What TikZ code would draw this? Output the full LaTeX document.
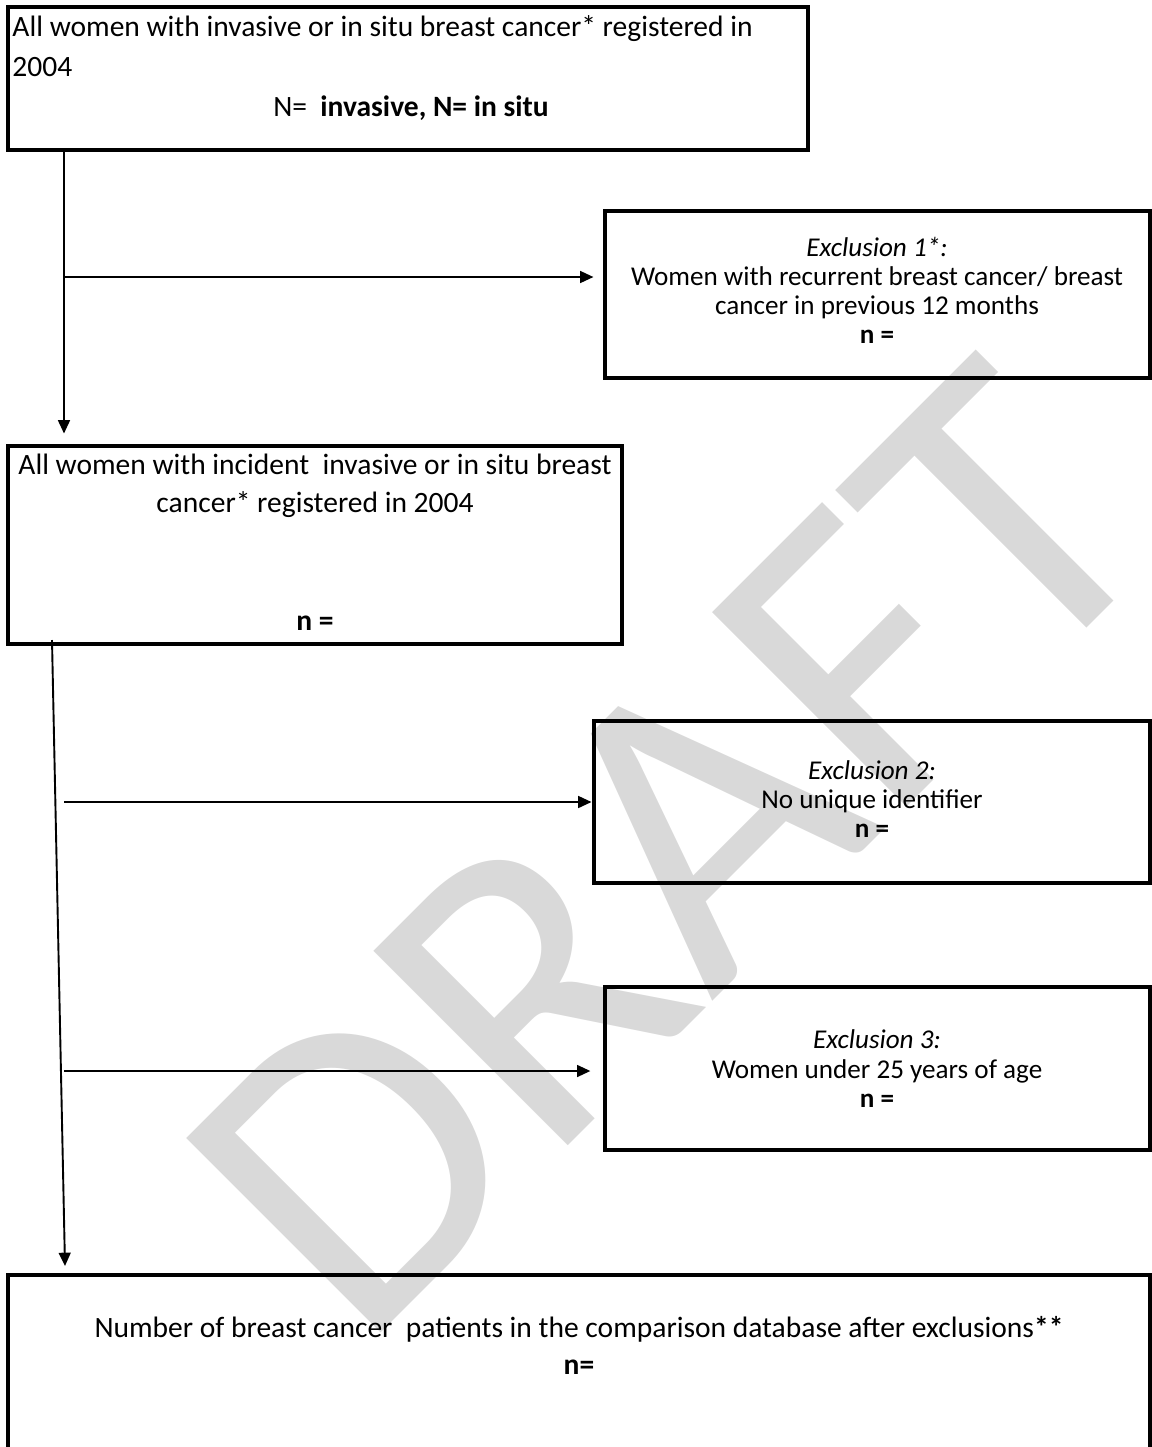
\documentclass[tikz,border=0pt]{standalone}
\usepackage{fontspec}
\setmainfont{Carlito}
\usetikzlibrary{arrows.meta,fit}

\begin{document}
\begin{tikzpicture}[x=0.42pt, y=-0.42pt,
	box/.style={draw=black, line width=1.3pt, inner sep=0pt},
	txt/.style={inner sep=0pt, anchor=base, font=\fontsize{12.4}{15}\selectfont},
	extxt/.style={txt, font=\fontsize{11.4}{14}\selectfont},
	flow/.style={-{Triangle[length=5.6pt, width=5pt]}, line width=0.8pt},
	watermark/.style={rotate=45, text=black!15, inner sep=0pt, font=\fontsize{180}{180}\selectfont}]
				\useasboundingbox (0,0) rectangle (1152,1447);
				
				\node[watermark] (draft) at (670,850) {DRAFT};
				
				\node[box, fit={(8,7) (808,150)}] (all) {};
				\node[txt, anchor=base west] (alla) at (12,36) {All women with invasive or in situ breast cancer* registered in};
				\node[txt, anchor=base west] (allb) at (12,76) {2004};
				\node[txt] (allc) at (411,116) {N=\ \ \textbf{invasive, N= in situ}};
				
				\node[box, fit={(605,211) (1150,378)}] (excl1) {};
				\node[extxt] (excla) at (877,256) {\textit{Exclusion 1*:}};
				\node[extxt] (exclb) at (877,285) {Women with recurrent breast cancer/ breast};
				\node[extxt] (exclc) at (877,314) {cancer in previous 12 months};
				\node[extxt] (excld) at (877,343) {\textbf{n =}};
				
				\node[box, fit={(8,446) (622,644)}] (inc) {};
				\node[txt] (inca) at (315,474) {All women with incident\ \ invasive or in situ breast};
				\node[txt] (incb) at (315,512) {cancer* registered in 2004};
				\node[txt] (incc) at (315,630) {\textbf{n =}};
				
				\node[box, fit={(594,721) (1150,883)}] (excl2) {};
				\node[extxt] (exclia) at (872,779) {\textit{Exclusion 2:}};
				\node[extxt] (exclib) at (872,808) {No unique identifier};
				\node[extxt] (exclic) at (872,837) {\textbf{n =}};
				
				\node[box, fit={(605,987) (1150,1150)}] (excl3) {};
				\node[extxt] (excliia) at (877,1048) {\textit{Exclusion 3:}};
				\node[extxt] (excliib) at (877,1078) {Women under 25 years of age};
				\node[extxt] (excliic) at (877,1107) {\textbf{n =}};
				
				\node[box, fit={(8,1275) (1150,1470)}] (final) {};
				\node[txt] (finala) at (579,1337) {Number of breast cancer\ \ patients in the comparison database after exclusions\textbf{**}};
				\node[txt] (finalb) at (579,1374) {\textbf{n=}};
				
				\coordinate (s1) at (64,152);
				\coordinate (b1) at (64,277);
				\coordinate (s2) at (52,640);
				\coordinate (e2) at (65,1266);
				\coordinate (b2) at (64,802);
				\coordinate (b3) at (64,1071);
				
				\draw[flow, shorten >=4.6pt] (s1) -- (s1 |- inc.north);
				\draw[flow, shorten >=4.2pt] (b1) -- (b1 -| excl1.west);
				\draw[flow] (s2) -- (e2);
				\draw[flow, shorten >=0.4pt] (b2) -- (b2 -| excl2.west);
				\draw[flow, shorten >=5.5pt] (b3) -- (b3 -| excl3.west);
			\end{tikzpicture}
\end{document}
